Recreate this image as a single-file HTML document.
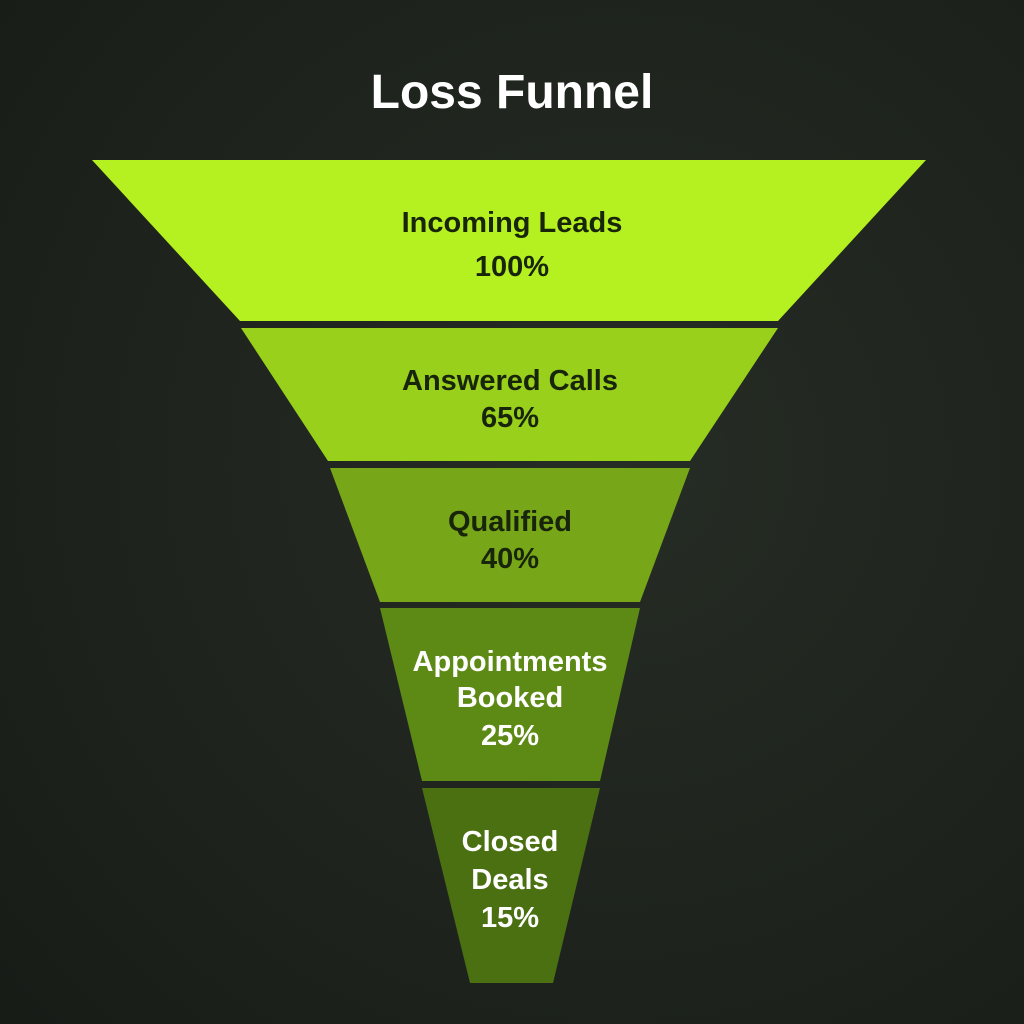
<!DOCTYPE html>
<html><head><meta charset="utf-8"><style>
html,body{margin:0;padding:0;width:1024px;height:1024px;overflow:hidden;background:#1c211c}
svg{display:block}
text{font-family:"Liberation Sans","DejaVu Sans",sans-serif;font-weight:bold;text-anchor:middle}
</style></head><body>
<svg width="1024" height="1024" viewBox="0 0 1024 1024">
<defs><radialGradient id="bg" cx="0.6" cy="0.45" r="0.8"><stop offset="0" stop-color="#262d25"/><stop offset="1" stop-color="#181c17"/></radialGradient></defs>
<rect width="1024" height="1024" fill="url(#bg)"/>
<text x="512" y="108" font-size="48" fill="#ffffff" font-weight="normal" style="font-weight:600">Loss Funnel</text>
<polygon points="92,160 926,160 778,321 240,321" fill="#b5f020"/>
<polygon points="241,328 778,328 690,461 328,461" fill="#98d01c"/>
<polygon points="330,468 690,468 640,602 380,602" fill="#77a618"/>
<polygon points="380,608 640,608 600,781 422,781" fill="#5d8a15"/>
<polygon points="422,788 600,788 553,983 470,983" fill="#4b7012"/>
<g font-size="29" fill="#18250a">
<text x="512" y="232">Incoming Leads</text>
<text x="512" y="276">100%</text>
<text x="510" y="390">Answered Calls</text>
<text x="510" y="427">65%</text>
<text x="510" y="531">Qualified</text>
<text x="510" y="568">40%</text>
</g>
<g font-size="29" fill="#ffffff">
<text x="510" y="671">Appointments</text>
<text x="510" y="707">Booked</text>
<text x="510" y="745">25%</text>
<text x="510" y="851">Closed</text>
<text x="510" y="889">Deals</text>
<text x="510" y="927">15%</text>
</g>
</svg>
</body></html>
